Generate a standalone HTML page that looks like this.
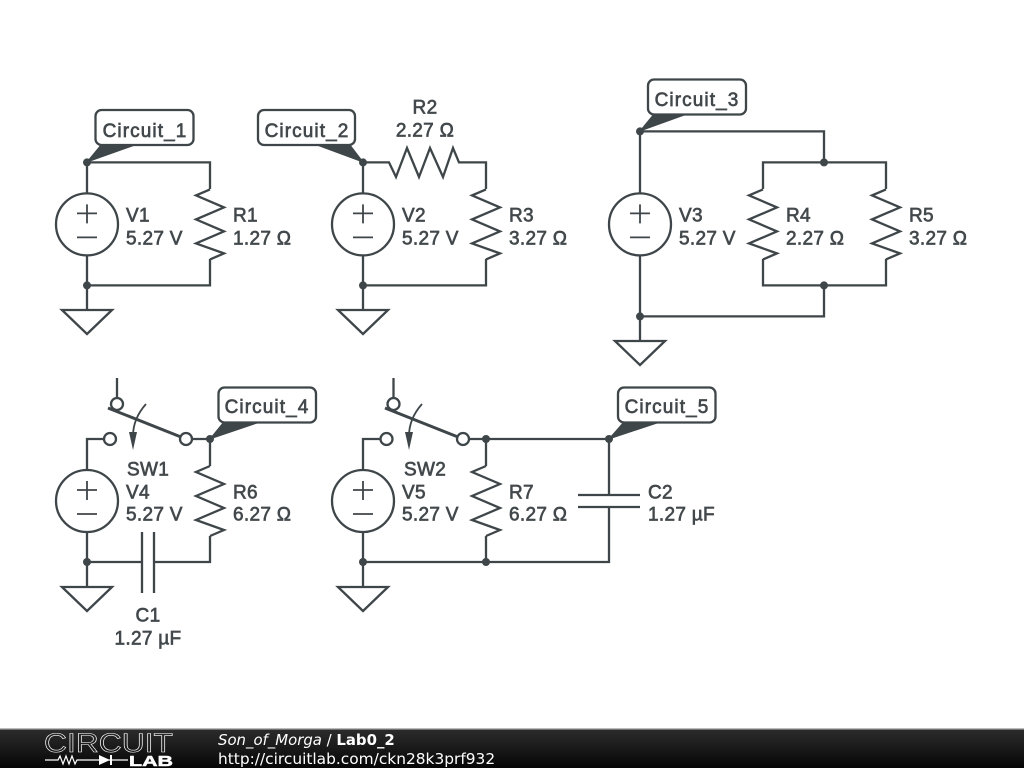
<!DOCTYPE html>
<html><head><meta charset="utf-8"><style>
html,body{margin:0;padding:0;background:#fff;width:1024px;height:768px;overflow:hidden}
svg{display:block}
.w{fill:none;stroke:#3f4649;stroke-width:2.3;stroke-linejoin:miter}
.t{font-family:"Liberation Sans",sans-serif;font-size:19px;fill:#42484b;stroke:#42484b;stroke-width:.65;letter-spacing:.3px;transform:translateY(.7px)}
.c{letter-spacing:1.1px;transform:none}
.m{text-anchor:middle}
.f{font-family:"DejaVu Sans",sans-serif;font-size:14.900px;fill:#fff}
</style></head><body>
<svg width="1024" height="768" viewBox="0 0 1024 768" xmlns="http://www.w3.org/2000/svg">
<defs>
<g id="src"><circle class="w" cx="0" cy="0" r="31"/><path class="w" style="stroke-width:1.8" d="M-10 -11H10M0 -20V-1M-10 13H10"/></g>
<g id="gnd"><path class="w" d="M-25 0H25L0 24Z"/></g>
<path id="res" class="w" d="M0 -35 L-14 -29 L14 -17 L-14 -5 L14 7 L-14 19 L14 29 L0 35"/>
<circle id="d" r="4" fill="#3f4649"/>
</defs>
<rect width="1024" height="768" fill="#fff"/>

<!-- Circuit 1 -->
<path class="w" d="M87 162.400V193M87 255V310M87 162.400H210V189M210 259V285.400H87"/>
<use href="#src" x="87" y="224.400"/><use href="#res" x="210" y="224.400"/><use href="#gnd" x="87" y="310"/>
<use href="#d" x="87" y="162.400"/><use href="#d" x="87" y="285.400"/>
<path d="M87 162L101 145H135Z" fill="#3f4649" stroke="#3f4649"/>
<rect class="w" x="95.500" y="110" width="98" height="35" rx="6" style="fill:#fff"/>
<text class="t c m" x="145" y="137">Circuit_1</text>
<text class="t" x="126" y="221">V1</text><text class="t" x="126" y="244">5.27 V</text>
<text class="t" x="233" y="221">R1</text><text class="t" x="233" y="244">1.27 Ω</text>

<!-- Circuit 2 -->
<path class="w" d="M363 162.400V193M363 255V310M363 162.400H389L396 177L407 148L419 177L430 148L443 177L453 148L459 162.400H486V189M486 259V285.400H363"/>
<use href="#src" x="363" y="224.400"/><use href="#res" x="486" y="224.400"/><use href="#gnd" x="363" y="310"/>
<use href="#d" x="363" y="162.400"/><use href="#d" x="363" y="285.400"/>
<path d="M363 162L350 145H317Z" fill="#3f4649" stroke="#3f4649"/>
<rect class="w" x="258" y="110" width="97" height="35" rx="6" style="fill:#fff"/>
<text class="t c m" x="307" y="137">Circuit_2</text>
<text class="t m" x="425" y="113">R2</text><text class="t m" x="425" y="136">2.27 Ω</text>
<text class="t" x="402" y="221">V2</text><text class="t" x="402" y="244">5.27 V</text>
<text class="t" x="509" y="221">R3</text><text class="t" x="509" y="244">3.27 Ω</text>

<!-- Circuit 3 -->
<path class="w" d="M640 131.400V193M640 255V341M640 131.400H824V162.400M763 189V162.400H886V189M763 259V285.400H886V259M824 285.400V316.400H640"/>
<use href="#src" x="640" y="224.400"/><use href="#res" x="763" y="224.400"/><use href="#res" x="886" y="224.400"/><use href="#gnd" x="640" y="341"/>
<use href="#d" x="640" y="131.400"/><use href="#d" x="824" y="162.400"/><use href="#d" x="824" y="285.400"/><use href="#d" x="640" y="316.400"/>
<path d="M640 131L654 114H687Z" fill="#3f4649" stroke="#3f4649"/>
<rect class="w" x="648" y="79.500" width="98" height="35" rx="6" style="fill:#fff"/>
<text class="t c m" x="697" y="106">Circuit_3</text>
<text class="t" x="679" y="221">V3</text><text class="t" x="679" y="244">5.27 V</text>
<text class="t" x="786" y="221">R4</text><text class="t" x="786" y="244">2.27 Ω</text>
<text class="t" x="909" y="221">R5</text><text class="t" x="909" y="244">3.27 Ω</text>

<!-- Circuit 4 -->
<path class="w" d="M117 378V398M104 439H87V470M87 532V587M192 439H210V466M210 536V562H154M142 562H87M142 532V593M154 532V593"/>
<circle class="w" cx="117" cy="404" r="6"/><circle class="w" cx="110" cy="439" r="6"/><circle class="w" cx="186" cy="439" r="6"/>
<path d="M108 408L181 437" stroke="#3f4649" stroke-width="3" fill="none"/>
<path d="M146 404C138 413 133 424 133 436" fill="none" stroke="#3f4649" stroke-width="1.800"/>
<path d="M129 432H137L133 450Z" fill="#3f4649"/>
<use href="#src" x="87" y="501"/><use href="#res" x="210" y="501"/><use href="#gnd" x="87" y="587"/>
<use href="#d" x="210" y="439"/><use href="#d" x="87" y="562"/>
<path d="M210 439L223 423H257Z" fill="#3f4649" stroke="#3f4649"/>
<rect class="w" x="218.500" y="387.500" width="97.500" height="35" rx="6" style="fill:#fff"/>
<text class="t c m" x="267" y="413">Circuit_4</text>
<text class="t" x="127" y="475">SW1</text>
<text class="t" x="126" y="498">V4</text><text class="t" x="126" y="520">5.27 V</text>
<text class="t" x="233" y="498">R6</text><text class="t" x="233" y="520">6.27 Ω</text>
<text class="t m" x="148" y="621">C1</text><text class="t m" x="148" y="644">1.27 µF</text>

<!-- Circuit 5 -->
<path class="w" d="M393.500 378V398M380 439H363V470M363 532V587M469 439H609V495M609 507V562H363M486 439V466M486 536V562M578 495H640M578 507H640"/>
<circle class="w" cx="393.500" cy="404" r="6"/><circle class="w" cx="386.500" cy="439" r="6"/><circle class="w" cx="463" cy="439" r="6"/>
<path d="M385 408L458 437" stroke="#3f4649" stroke-width="3" fill="none"/>
<path d="M422 404C414 413 409 424 409 436" fill="none" stroke="#3f4649" stroke-width="1.800"/>
<path d="M405 432H413L409 450Z" fill="#3f4649"/>
<use href="#src" x="363" y="501"/><use href="#res" x="486" y="501"/><use href="#gnd" x="363" y="587"/>
<use href="#d" x="486" y="439"/><use href="#d" x="609" y="439"/><use href="#d" x="363" y="562"/><use href="#d" x="486" y="562"/>
<path d="M609 439L623 423H657Z" fill="#3f4649" stroke="#3f4649"/>
<rect class="w" x="618" y="387.500" width="97.500" height="35" rx="6" style="fill:#fff"/>
<text class="t c m" x="667" y="413">Circuit_5</text>
<text class="t" x="404" y="475">SW2</text>
<text class="t" x="402" y="498">V5</text><text class="t" x="402" y="520">5.27 V</text>
<text class="t" x="509" y="498">R7</text><text class="t" x="509" y="520">6.27 Ω</text>
<text class="t" x="648" y="498">C2</text><text class="t" x="648" y="520">1.27 µF</text>

<!-- Footer -->
<defs><linearGradient id="bar" x1="0" y1="0" x2="0" y2="1"><stop offset="0" stop-color="#2c2c2c"/><stop offset="1" stop-color="#060606"/></linearGradient></defs>
<rect x="0" y="729" width="1024" height="39" fill="url(#bar)"/>
<rect x="0" y="728" width="1024" height="1.500" fill="#bbb"/>
<text x="44" y="752" textLength="129" lengthAdjust="spacingAndGlyphs" font-family="Liberation Sans, sans-serif" font-size="26.500" fill="none" stroke="#fff" stroke-width=".6">CIRCUIT</text>
<path d="M45 760H58L60 756L63 764L66 756L69 764L72 756L75 764L77 760H128" fill="none" stroke="#fff" stroke-width="1.200"/>
<path d="M99 755V765L110 760Z M110 755V765H112V755Z" fill="#fff"/>
<text x="129" y="766" textLength="44" lengthAdjust="spacingAndGlyphs" font-family="Liberation Sans, sans-serif" font-size="15" font-weight="bold" fill="#fff" stroke="#fff" stroke-width=".5">LAB</text>
<text class="f" x="218" y="745"><tspan font-style="italic">Son_of_Morga</tspan> / <tspan font-weight="bold">Lab0_2</tspan></text>
<text class="f" x="218" y="764" style="font-size:15.400px">http://circuitlab.com/ckn28k3prf932</text>
</svg>
</body></html>
